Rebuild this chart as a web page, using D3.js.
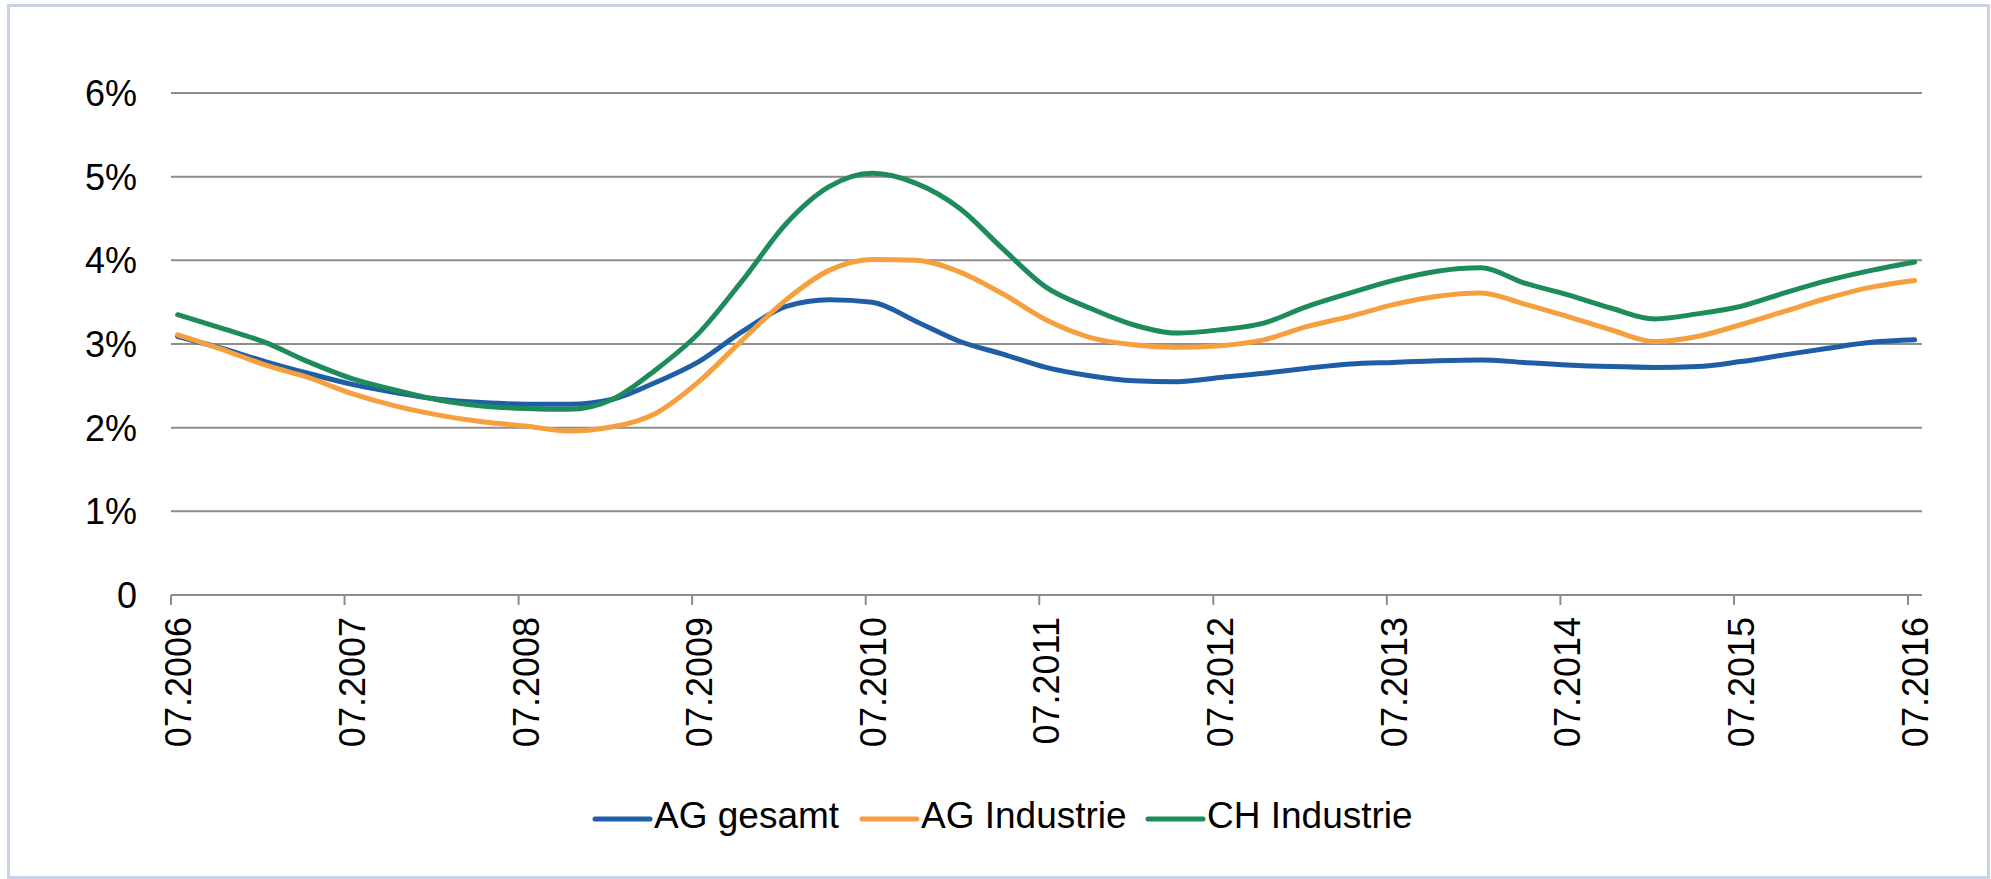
<!DOCTYPE html>
<html>
<head>
<meta charset="utf-8">
<script src="https://cdn.jsdelivr.net/npm/d3@7"></script>
<style>
  body { margin: 0; background: #fff; }
  text { font-family: "Liberation Sans", Arial, sans-serif; fill: #000; }
</style>
</head>
<body>
<svg width="1991" height="879"></svg>
<script>
// quarterly points, month.year
var months = [
  '07.2006','10.2006','01.2007','04.2007','07.2007','10.2007','01.2008','04.2008',
  '07.2008','10.2008','01.2009','04.2009','07.2009','10.2009','01.2010','04.2010',
  '07.2010','10.2010','01.2011','04.2011','07.2011','10.2011','01.2012','04.2012',
  '07.2012','10.2012','01.2013','04.2013','07.2013','10.2013','01.2014','04.2014',
  '07.2014','10.2014','01.2015','04.2015','07.2015','10.2015','01.2016','04.2016',
  '07.2016'
];

var agGesamt = [3.09, 2.95, 2.79, 2.65, 2.52, 2.42, 2.34, 2.30, 2.28, 2.28, 2.34, 2.54,
  2.79, 3.15, 3.45, 3.53, 3.50, 3.27, 3.03, 2.88, 2.72, 2.62, 2.56, 2.55, 2.60, 2.65,
  2.71, 2.76, 2.78, 2.80, 2.81, 2.78, 2.75, 2.73, 2.72, 2.73, 2.79, 2.87, 2.95, 3.02, 3.05];

var agIndustrie = [3.11, 2.94, 2.75, 2.60, 2.41, 2.26, 2.15, 2.07, 2.02, 1.96, 2.01, 2.17,
  2.55, 3.05, 3.53, 3.88, 4.01, 4.00, 3.86, 3.60, 3.29, 3.08, 2.99, 2.96, 2.98, 3.05,
  3.21, 3.33, 3.47, 3.57, 3.61, 3.48, 3.33, 3.17, 3.03, 3.09, 3.23, 3.39, 3.55, 3.68, 3.76];

var chIndustrie = [3.35, 3.19, 3.02, 2.79, 2.59, 2.45, 2.33, 2.26, 2.23, 2.22, 2.34, 2.69,
  3.13, 3.76, 4.44, 4.88, 5.04, 4.92, 4.62, 4.14, 3.68, 3.43, 3.23, 3.13, 3.17, 3.25,
  3.45, 3.61, 3.76, 3.87, 3.91, 3.73, 3.59, 3.43, 3.30, 3.36, 3.45, 3.61, 3.76, 3.88, 3.98];

var seriesNames = ['AG gesamt', 'AG Industrie', 'CH Industrie'];
var colors = ['#1f5ea6', '#f69f3e', '#1d8b5a'];
var yTicks = [0, 1, 2, 3, 4, 5, 6];
var xTickLabels = ['07.2006','07.2007','07.2008','07.2009','07.2010','07.2011',
  '07.2012','07.2013','07.2014','07.2015','07.2016'];

var svg = d3.select('svg');
var parse = d3.timeParse('%m.%Y');

// outer frame
svg.append('rect')
  .attr('x', 8.5).attr('y', 5.5)
  .attr('width', 1980).attr('height', 872)
  .attr('fill', 'none')
  .attr('stroke', '#c9d3e8')
  .attr('stroke-width', 3);

var x = d3.scaleTime()
  .domain([parse('07.2006'), parse('07.2016')])
  .range([171, 1908]);

var y = d3.scaleLinear()
  .domain([0, 6])
  .range([595, 93]);

// gridlines
svg.selectAll('.grid')
  .data(yTicks.filter(function(d) { return d > 0; }))
  .enter()
  .append('line')
  .attr('x1', 171).attr('x2', 1922)
  .attr('y1', function(d) { return y(d); })
  .attr('y2', function(d) { return y(d); })
  .attr('stroke', '#8c8c8c')
  .attr('stroke-width', 2);

// y labels
svg.selectAll('.ylab')
  .data(yTicks)
  .enter()
  .append('text')
  .attr('x', 137)
  .attr('y', function(d) { return y(d); })
  .attr('dy', '0.36em')
  .attr('text-anchor', 'end')
  .style('font-size', '36px')
  .text(function(d) { return d === 0 ? '0' : d + '%'; });

// x axis line + ticks
svg.append('line')
  .attr('x1', 171).attr('x2', 1922)
  .attr('y1', 595).attr('y2', 595)
  .attr('stroke', '#8c8c8c')
  .attr('stroke-width', 2);

svg.selectAll('.xtick')
  .data(xTickLabels)
  .enter()
  .append('line')
  .attr('x1', function(d) { return x(parse(d)); })
  .attr('x2', function(d) { return x(parse(d)); })
  .attr('y1', 595).attr('y2', 605)
  .attr('stroke', '#8c8c8c')
  .attr('stroke-width', 2);

svg.selectAll('.xlab')
  .data(xTickLabels)
  .enter()
  .append('text')
  .attr('transform', function(d) {
    return 'translate(' + (x(parse(d)) + 20) + ',617) rotate(-90)';
  })
  .attr('text-anchor', 'end')
  .style('font-size', '36px')
  .text(function(d) { return d; });

// lines (points plotted mid-month)
var mid = function(m) { return d3.timeDay.offset(parse(m), 14); };
var line = d3.line()
  .x(function(d, i) { return x(mid(months[i])); })
  .y(function(d) { return y(d); })
  .curve(d3.curveMonotoneX);

[agGesamt, agIndustrie, chIndustrie].forEach(function(s, k) {
  svg.append('path')
    .attr('d', line(s))
    .attr('fill', 'none')
    .attr('stroke', colors[k])
    .attr('stroke-width', 5)
    .attr('stroke-linecap', 'round')
    .attr('stroke-linejoin', 'round');
});

// legend
var legendX = [595, 862, 1148];
var legend = svg.selectAll('.leg')
  .data(seriesNames)
  .enter()
  .append('g')
  .attr('transform', function(d, i) { return 'translate(' + legendX[i] + ',0)'; });

legend.append('line')
  .attr('x1', 0).attr('x2', 55)
  .attr('y1', 819).attr('y2', 819)
  .attr('stroke', function(d, i) { return colors[i]; })
  .attr('stroke-width', 5)
  .attr('stroke-linecap', 'round');

legend.append('text')
  .attr('x', 59)
  .attr('y', 828)
  .style('font-size', '37px')
  .text(function(d) { return d; });
</script>
</body>
</html>
